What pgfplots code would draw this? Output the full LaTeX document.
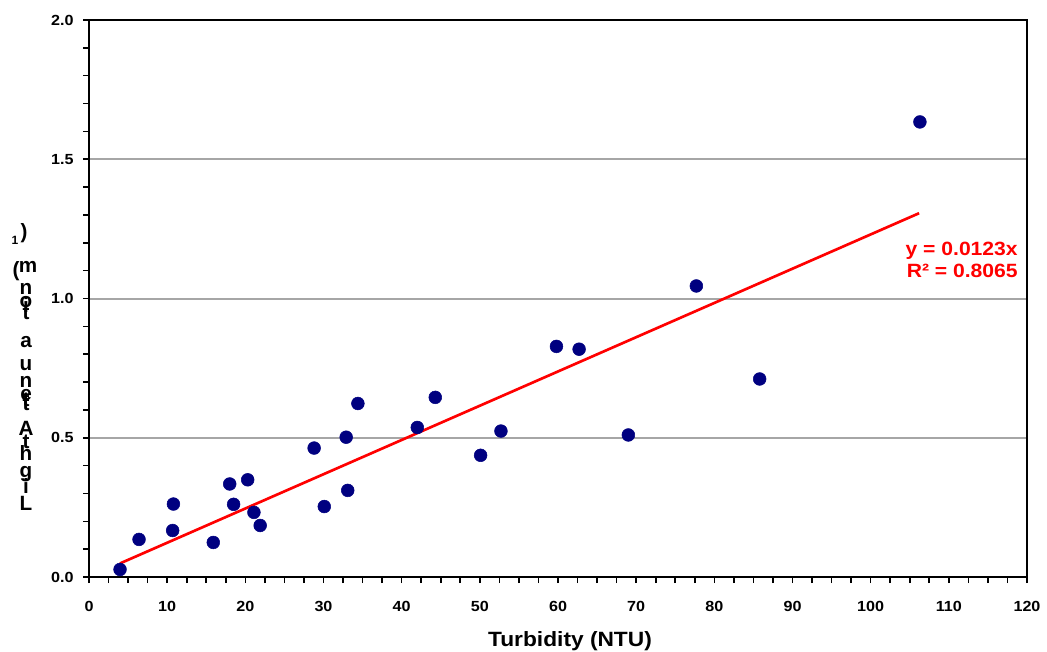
\documentclass[border=0pt]{standalone}
\usepackage{pgfplots}
\pgfplotsset{compat=1.18}
\usepackage{fontspec}
\setmainfont{Liberation Sans}[FakeStretch=1.1]
\newfontfamily\ylabfont{Liberation Sans}
\definecolor{navy}{HTML}{000080}
\definecolor{gridgray}{HTML}{A6A6A6}
\begin{document}
\begin{tikzpicture}[x=0.75pt,y=0.75pt]
\useasboundingbox (0,0) rectangle (1047,651);
\begin{axis}[
  at={(66.75pt,55.5pt)}, anchor=south west,
  scale only axis, width=703.5pt, height=417.75pt,
  xmin=0, xmax=120, ymin=0, ymax=2,
  xtick={0,10,...,120}, ytick={0,0.5,1.0,1.5,2.0},
  minor x tick num=3, minor y tick num=4,
  xtick pos=bottom, ytick pos=left,
  tick align=outside,
  major tick length=4.5pt, minor tick length=4.5pt,
  every tick/.style={black, line width=1.2pt},
  axis line style={black, line width=1.6pt},
  ymajorgrids, major grid style={gridgray, line width=1.5pt},
  /pgf/number format/assume math mode=true,
  y tick label style={/pgf/number format/fixed, /pgf/number format/fixed zerofill, /pgf/number format/precision=1},
  xticklabel style={font=\bfseries\fontsize{11pt}{12pt}\selectfont, yshift=-10.5pt},
  yticklabel style={font=\bfseries\fontsize{11pt}{12pt}\selectfont, xshift=-3.5pt},
  xlabel={Turbidity (NTU)},
  xlabel style={font=\bfseries\fontsize{15.5pt}{17pt}\selectfont, at={(axis description cs:0.5128,0)}, anchor=base, yshift=-52pt},
  clip=false,
]
\addplot[only marks, mark=*, mark size=4.8pt, mark options={fill=navy, draw=navy}] coordinates {
(3.97,0.027) (6.4,0.135) (10.7,0.167) (10.8,0.262) (15.9,0.124) (18.0,0.334)
(18.5,0.261) (20.3,0.349) (21.1,0.232) (21.9,0.185) (28.8,0.463) (30.1,0.253)
(32.9,0.502) (33.1,0.311) (34.4,0.623) (42.0,0.537) (44.3,0.645) (50.1,0.437)
(52.7,0.524) (59.8,0.828) (62.7,0.818) (69.0,0.510) (77.7,1.045) (85.8,0.711)
(106.3,1.634)
};
\addplot[red, line width=2pt, no marks] coordinates {(3.97,0.0488) (106.2,1.3063)};
\node[anchor=base east, red, font=\bfseries\fontsize{14.4pt}{15pt}\selectfont, inner sep=0pt] at (axis cs:118.85,1.156) {y = 0.0123x};
\node[anchor=base east, red, font=\bfseries\fontsize{14.4pt}{15pt}\selectfont, inner sep=0pt] at (axis cs:118.85,1.077) {R² = 0.8065};
\end{axis}
% stacked (upright) y-axis title, as in the reference
\foreach \c/\yy/\xx in {L/510/26, i/493/26, g/477/26, h/460/26, t/448/26, A/435/26, t/410/26, t/407/26, e/400/26, n/387/26, u/370/26, a/348/26, t/320/26, i/312/26, o/307/26, n/295/26, {(}/277/16, m/273/28, {)}/239/24}
  \node[anchor=base, inner sep=0pt, font=\ylabfont\bfseries\fontsize{15.5pt}{17pt}\selectfont] at (\xx,651-\yy) {\c};
\node[anchor=base, inner sep=0pt, font=\ylabfont\bfseries\fontsize{9pt}{10pt}\selectfont] at (15,651-245) {1};
\end{tikzpicture}
\end{document}
